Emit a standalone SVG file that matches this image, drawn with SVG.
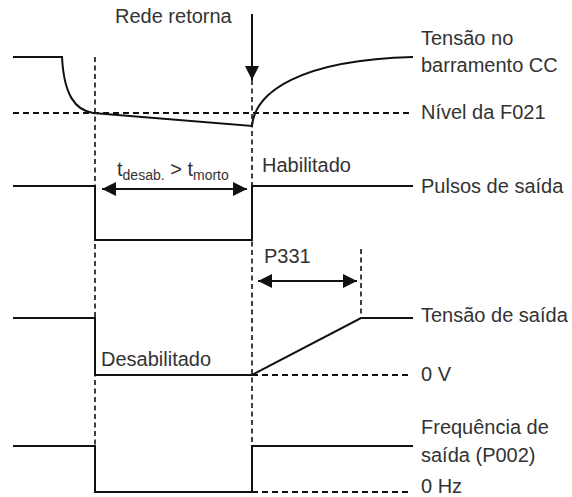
<svg xmlns="http://www.w3.org/2000/svg" width="572" height="497" viewBox="0 0 572 497">
<style>
.s{fill:none;stroke:#111;stroke-width:2;stroke-linejoin:miter}
.d{fill:none;stroke:#111;stroke-width:2;stroke-dasharray:6 4}
.v{fill:none;stroke:#111;stroke-width:1.6;stroke-dasharray:5 3.5}
.a{fill:none;stroke:#111;stroke-width:2}
text{font-family:"Liberation Sans",Arial,sans-serif;font-size:20px;fill:#333}
.sub{font-size:14px}
</style>
<defs>
<marker id="ah2" viewBox="0 0 10 10" refX="10" refY="5" markerWidth="7" markerHeight="7" markerUnits="strokeWidth" orient="auto-start-reverse">
<path d="M0,0 L10,5 L0,10 Z" fill="#111"/>
</marker>
</defs>
<g id="connectors">
<line class="v" x1="95" y1="57" x2="95" y2="492"/>
<line class="v" x1="252" y1="80" x2="252" y2="492"/>
<line class="v" x1="361" y1="249" x2="361" y2="318"/>
<line class="a" x1="252" y1="14" x2="252" y2="80" marker-end="url(#ah2)"/>
<line class="a" x1="102" y1="189" x2="247" y2="189" marker-start="url(#ah2)" marker-end="url(#ah2)"/>
<line class="a" x1="258" y1="281" x2="357" y2="281" marker-start="url(#ah2)" marker-end="url(#ah2)"/>
</g>
<g id="dc-bus">
<path class="s" d="M13,57 H62 C64,95 75,110 93,113 L252,126 C255,92 300,60 413,57"/>
<line class="d" x1="13" y1="113" x2="410" y2="113"/>
</g>
<g id="pulses">
<path class="s" d="M13,186 H95 V240 H252 V186 H413"/>
</g>
<g id="output-voltage">
<path class="s" d="M13,318 H95 V375 H252 L361,318 H413"/>
<line class="d" x1="252" y1="375" x2="410" y2="375"/>
</g>
<g id="output-frequency">
<path class="s" d="M13,446 H95 V492 H252 V446 H413"/>
<line class="d" x1="252" y1="492" x2="410" y2="492"/>
</g>
<g id="labels">
<text x="115" y="23">Rede retorna</text>
<text x="421" y="45">Tensão no</text>
<text x="421" y="72">barramento CC</text>
<text x="421" y="119">Nível da F021</text>
<text x="262" y="172">Habilitado</text>
<text x="421" y="193">Pulsos de saída</text>
<text x="117" y="176">t<tspan class="sub" dy="4">desab.</tspan><tspan dy="-4"> &gt; t</tspan><tspan class="sub" dy="4">morto</tspan></text>
<text x="264" y="263">P331</text>
<text x="421" y="322">Tensão de saída</text>
<text x="101" y="366">Desabilitado</text>
<text x="421" y="381">0 V</text>
<text x="421" y="434">Frequência de</text>
<text x="421" y="462">saída (P002)</text>
<text x="421" y="493">0 Hz</text>
</g>
</svg>
